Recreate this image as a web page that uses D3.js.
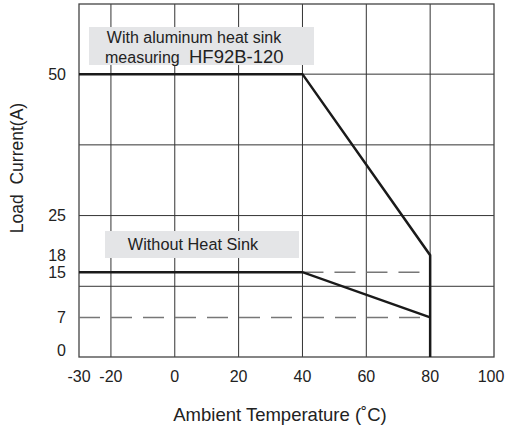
<!DOCTYPE html>
<html>
<head>
<meta charset="utf-8">
<script src="https://cdn.jsdelivr.net/npm/d3@7/dist/d3.min.js"></script>
<style>
  html, body { margin: 0; padding: 0; background: #fff; }
  svg { display: block; }
  text { font-family: "Liberation Sans", Arial, sans-serif; fill: #222; }
</style>
</head>
<body>
<script>
// ---- data ----
const xTickValues = [-30, -20, 0, 20, 40, 60, 80, 100];
const xGridValues = [-20, 0, 20, 40, 60, 80];
const yTickValues = [0, 7, 15, 18, 25, 50];
const yGridValues = [12.5, 25, 37.5, 50];
const withSinkCurve = [[-30, 50], [40, 50], [80, 18], [80, 0]];
const withoutSinkCurve = [[-30, 15], [40, 15], [80, 7]];
const dashedLevels = [[40, 80, 15], [-30, 80, 7]];
const labelWithSink1 = "With aluminum heat sink";
const labelWithSink2 = "measuring";
const labelWithSinkModel = "HF92B-120";
const labelWithout = "Without Heat Sink";

const W = 505, H = 433;
const svg = d3.select("body").append("svg").attr("width", W).attr("height", H);

const x = d3.scaleLinear().domain([-30, 100]).range([79, 494]);
const y = d3.scaleLinear().domain([0, 62.4]).range([357, 4]);

// grid
svg.append("g").selectAll("line").data(xGridValues).join("line")
  .attr("x1", d => x(d)).attr("x2", d => x(d))
  .attr("y1", y(62.4)).attr("y2", y(0))
  .attr("stroke", "#333").attr("stroke-width", 1);
svg.append("g").selectAll("line").data(yGridValues).join("line")
  .attr("x1", x(-30)).attr("x2", x(100))
  .attr("y1", d => y(d)).attr("y2", d => y(d))
  .attr("stroke", "#333").attr("stroke-width", 1);

// frame
svg.append("rect")
  .attr("x", x(-30)).attr("y", y(62.4))
  .attr("width", x(100) - x(-30)).attr("height", y(0) - y(62.4))
  .attr("fill", "none").attr("stroke", "#444").attr("stroke-width", 1.3);

// dashed lines
svg.append("g").selectAll("line").data(dashedLevels).join("line")
  .attr("x1", d => x(d[0])).attr("x2", d => x(d[1]))
  .attr("y1", d => y(d[2])).attr("y2", d => y(d[2]))
  .attr("stroke", "#777").attr("stroke-width", 1.5)
  .attr("stroke-dasharray", "21,11");

// curves
const line = d3.line().x(d => x(d[0])).y(d => y(d[1]));
[withSinkCurve, withoutSinkCurve].forEach(c => {
  svg.append("path").attr("d", line(c))
    .attr("fill", "none").attr("stroke", "#1a1a1a").attr("stroke-width", 2.5)
    .attr("stroke-linejoin", "miter");
});

// annotation boxes
svg.append("rect").attr("x", 89).attr("y", 27).attr("width", 225).attr("height", 38).attr("fill", "#e4e5e7");
svg.append("text").attr("x", 194).attr("y", 43).attr("text-anchor", "middle")
  .attr("font-size", 16).text(labelWithSink1);
svg.append("text").attr("x", 105).attr("y", 63).attr("font-size", 16).text(labelWithSink2);
svg.append("text").attr("x", 189).attr("y", 63).attr("font-size", 18.5).text(labelWithSinkModel);

svg.append("rect").attr("x", 105).attr("y", 231).attr("width", 194).attr("height", 27).attr("fill", "#e4e5e7");
svg.append("text").attr("x", 193).attr("y", 250).attr("text-anchor", "middle")
  .attr("font-size", 16.3).text(labelWithout);

// y tick labels
svg.append("g").selectAll("text").data(yTickValues).join("text")
  .attr("x", 66).attr("y", d => d === 0 ? y(d) - 7 : y(d))
  .attr("dy", "0.35em").attr("text-anchor", "end")
  .attr("font-size", 16).text(d => d);

// x tick labels (last one kept inside the page)
svg.append("g").selectAll("text").data(xTickValues).join("text")
  .attr("x", d => Math.min(x(d), W - 14)).attr("y", 382)
  .attr("text-anchor", "middle")
  .attr("font-size", 16).text(d => d);

// axis titles
svg.append("text").attr("x", 280).attr("y", 421).attr("text-anchor", "middle")
  .attr("font-size", 18.5).text("Ambient Temperature (\u02DAC)");
svg.append("text").attr("transform", "translate(23,168) rotate(-90)")
  .attr("text-anchor", "middle").attr("font-size", 17.5)
  .style("white-space", "pre").text("Load  Current(A)");
</script>
</body>
</html>
